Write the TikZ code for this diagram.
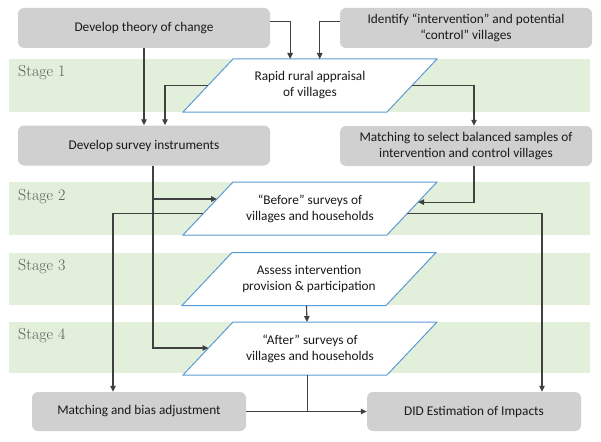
\documentclass[tikz,border=0pt]{standalone}
\usepackage{fontspec}
\newfontfamily\bxfont{Carlito}
\usetikzlibrary{arrows.meta,calc}
\definecolor{boxgray}{HTML}{D0D0D0}
\definecolor{bandgreen}{HTML}{E2EFDA}
\definecolor{paraBlue}{HTML}{5B9BD5}
\definecolor{linegray}{HTML}{404040}
\definecolor{stagegray}{HTML}{5A5A5A}
\tikzset{
  box/.style={fill=boxgray, rounded corners=6pt, minimum width=252pt, minimum height=40pt,
    align=center, font=\bxfont\fontsize{13.3}{15.5}\selectfont, text=black!90, inner sep=0pt},
  ptext/.style={align=center, font=\bxfont\fontsize{13.3}{16}\selectfont, text=black!90, inner sep=0pt},
  arr/.style={draw=linegray, line width=1.1pt, -{Triangle[length=6pt,width=5.5pt]}},
  ln/.style={draw=linegray, line width=1.1pt},
  band/.style={fill=bandgreen, draw=none},
  para/.style={draw=paraBlue, fill=white, line width=1pt, line join=miter},
  stage/.style={font=\fontsize{16}{18}\selectfont, text=stagegray, anchor=west, inner sep=0pt}
}
\newcommand\mkpara[4]{%
  \coordinate (#1-tl) at (#2-77,#3-26.5);
  \coordinate (#1-tr) at (#2+127,#3-26.5);
  \coordinate (#1-br) at (#2+77,#3+26.5);
  \coordinate (#1-bl) at (#2-127,#3+26.5);
  \draw[para] (#1-tl) -- (#1-tr) -- (#1-br) -- (#1-bl) -- cycle;
  \node[ptext] (#1) at (#2,#3) {#4};
}
\begin{document}
\begin{tikzpicture}[x=1pt,y=-1pt]
\useasboundingbox (0,0) rectangle (601,441);
% bands
\fill[band] (9,59) rectangle (590,112);
\fill[band] (9,182) rectangle (590,235);
\fill[band] (9,253) rectangle (590,305);
\fill[band] (9,322) rectangle (590,373);
\node[stage] (s1) at (18,73) {Stage 1};
\node[stage] (s2) at (18,197) {Stage 2};
\node[stage] (s3) at (18,267) {Stage 3};
\node[stage] (s4) at (18,336) {Stage 4};
% boxes
\node[box] (T) at (144,28) {Develop theory of change};
\node[box] (I) at (466,28) {Identify “intervention” and potential\\“control” villages};
\node[box] (S) at (144,145.5) {Develop survey instruments};
\node[box] (M) at (466,146) {Matching to select balanced samples of\\intervention and control villages};
\node[box, minimum width=214pt, minimum height=39pt] (B) at (139,411.5) {Matching and bias adjustment};
\node[box, minimum width=214pt, minimum height=39pt] (D) at (474,411.5) {DID Estimation of Impacts};
% parallelograms
\mkpara{P1}{310}{85.5}{Rapid rural appraisal\\of villages}
\mkpara{P2}{310}{208.5}{“Before” surveys of\\villages and households}
\mkpara{P3}{309}{279}{Assess intervention\\provision \& participation}
\mkpara{P4}{310}{348.5}{“After” surveys of\\villages and households}
% connectors
\draw[arr] ($(T.north east)!0.35!(T.south east)$) -| ($(P1-tl)!0.28!(P1-tr)$);
\draw[arr] ($(I.north west)!0.35!(I.south west)$) -| ($(P1-tl)!0.425!(P1-tr)$);
\draw[arr] (T.south) -- (S.north);
\draw[arr] ($(P1-tl)!0.5!(P1-bl)$) -| ([xshift=21pt]S.north);
\draw[arr] ($(P1-tr)!0.5!(P1-br)$) -| ([xshift=8pt]M.north);
\draw[arr] ([xshift=9pt]S.south) |- ($(P4-tl)!0.49!(P4-bl)$);
\draw[arr] ([xshift=9pt]S.south) |- ($(P2-tl)!0.32!(P2-bl)$);
\draw[arr] ([xshift=8pt]M.south) |- ($(P2-tr)!0.38!(P2-br)$);
\draw[arr] ($(P2-tl)!0.6!(P2-bl)$) -| ([xshift=-26pt]B.north);
\draw[arr] ($(P2-tr)!0.6!(P2-br)$) -| ([xshift=68pt]D.north);
\draw[arr] ($(P3-bl)!0.61!(P3-br)$) -- ($(P4-tl)!0.363!(P4-tr)$);
\draw[arr] (B.east) -- (D.west);
\coordinate (P4b) at ($(P4-bl)!0.61!(P4-br)$);
\draw[ln] (P4b) -- (P4b |- B.east);
\end{tikzpicture}
\end{document}
